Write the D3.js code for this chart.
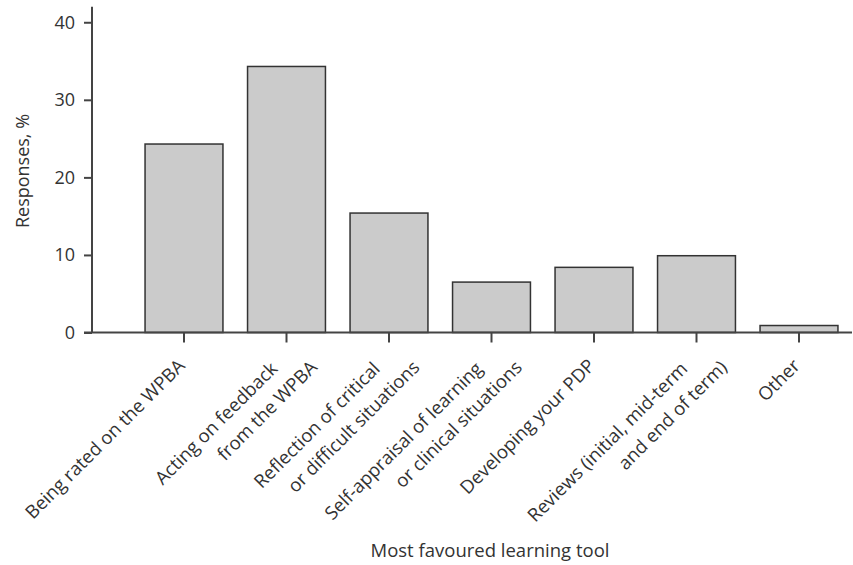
<!DOCTYPE html>
<html>
<head>
<meta charset="utf-8">
<script src="https://cdn.jsdelivr.net/npm/d3@7"></script>
<style>
  body { margin: 0; background: #fff; }
  text { font-family: "Open Sans", Lato, sans-serif; fill: #333; }
</style>
</head>
<body>
<div id="chart"></div>
<script>
// data
var tools = [
    ["Being rated on the WPBA"],
    ["Acting on feedback", "from the WPBA"],
    ["Reflection of critical", "or difficult situations"],
    ["Self-appraisal of learning", "or clinical situations"],
    ["Developing your PDP"],
    ["Reviews (initial, mid-term", "and end of term)"],
    ["Other"]
];
var responses = [24.3, 34.3, 15.4, 6.5, 8.4, 9.9, 0.9];
var yTicks = [0, 10, 20, 30, 40];

var svgWidth = 853;
var svgHeight = 565;

var svg = d3.select("#chart")
    .append("svg")
    .attr("width", svgWidth)
    .attr("height", svgHeight);

var data = tools.map(function (t, i) {
    return { key: i, lines: t, value: responses[i] };
});

var xScale = d3.scaleBand()
    .domain(data.map(d => d.key))
    .range([132.75, 850.25])
    .paddingInner(0.24)
    .paddingOuter(0.12);

var yScale = d3.scaleLinear()
    .domain([0, 42])
    .range([332.5, 6.75]);

var axisColor = "#444";

// bars
svg.selectAll("rect.bar")
    .data(data)
    .enter()
    .append("rect")
    .attr("class", "bar")
    .attr("x", d => xScale(d.key))
    .attr("y", d => yScale(d.value))
    .attr("width", xScale.bandwidth())
    .attr("height", d => yScale(0) - yScale(d.value))
    .attr("fill", "#cbcbcb")
    .attr("stroke", "#333")
    .attr("stroke-width", 1.5);

// y axis
var leftAxis = d3.axisLeft(yScale)
    .tickValues(yTicks)
    .tickSize(8)
    .tickPadding(9)
    .tickSizeOuter(0);

var yAxisG = svg.append("g")
    .attr("transform", "translate(92, 0)")
    .call(leftAxis);
yAxisG.select(".domain").remove();
yAxisG.selectAll("line").attr("stroke", axisColor).attr("stroke-width", 2);
yAxisG.selectAll("text")
    .attr("font-size", 18)
    .attr("fill", "#333")
    .style("font-family", "'Open Sans', Lato, sans-serif");

svg.append("line")
    .attr("x1", 92).attr("x2", 92)
    .attr("y1", yScale.range()[1]).attr("y2", yScale(0))
    .attr("stroke", axisColor)
    .attr("stroke-width", 2);

// x axis
var bottomAxis = d3.axisBottom(xScale)
    .tickSize(10)
    .tickSizeOuter(0)
    .tickFormat("");

var xAxisG = svg.append("g")
    .attr("transform", `translate(0, ${yScale(0)})`)
    .call(bottomAxis);
xAxisG.select(".domain").remove();
xAxisG.selectAll("line").attr("stroke", axisColor).attr("stroke-width", 2);

svg.append("line")
    .attr("x1", 84).attr("x2", 852)
    .attr("y1", yScale(0)).attr("y2", yScale(0))
    .attr("stroke", axisColor)
    .attr("stroke-width", 2);

// rotated category labels
var labels = svg.selectAll("g.label")
    .data(data)
    .enter()
    .append("g")
    .attr("class", "label")
    .attr("transform", d => `translate(${xScale(d.key) + xScale.bandwidth() / 2 + 2}, 367) rotate(-45)`);

labels.each(function (d) {
    var g = d3.select(this);
    var offs = d.lines.length === 1 ? [[0, 0]] : [[-9, -5], [20, 22]];
    d.lines.forEach(function (line, j) {
        g.append("text")
            .attr("x", offs[j][0])
            .attr("y", offs[j][1])
            .attr("text-anchor", "end")
            .attr("font-size", 18.5)
            .text(line);
    });
});

// axis titles
svg.append("text")
    .attr("transform", "translate(29, 171) rotate(-90)")
    .attr("text-anchor", "middle")
    .attr("font-size", 18)
    .text("Responses, %");

svg.append("text")
    .attr("x", 490)
    .attr("y", 557)
    .attr("text-anchor", "middle")
    .attr("font-size", 18.5)
    .text("Most favoured learning tool");
</script>
</body>
</html>
